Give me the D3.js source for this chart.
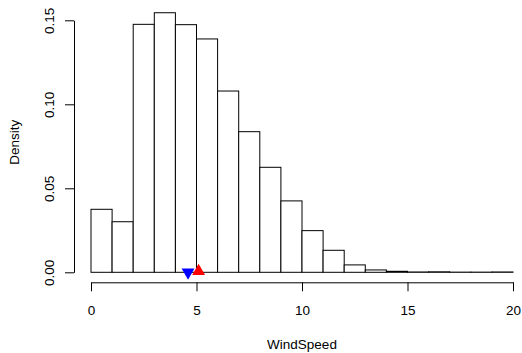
<!DOCTYPE html>
<html>
<head>
<meta charset="utf-8">
<script src="https://cdn.jsdelivr.net/npm/d3@7"></script>
<style>
  html, body { margin: 0; padding: 0; background: #fff; }
  svg { display: block; font-family: "Liberation Sans", Arial, Helvetica, sans-serif; }
</style>
</head>
<body>
<svg id="chart" width="522" height="353"></svg>
<script>
// Histogram bins (WindSpeed, width 1) and densities
const binStarts = [0, 1, 2, 3, 4, 5, 6, 7, 8, 9, 10, 11, 12, 13, 14, 15, 16, 17, 18, 19];
const densities = [0.0375, 0.0301, 0.1476, 0.1545, 0.1474, 0.1389, 0.1079, 0.0837, 0.0625, 0.0425,
                   0.0248, 0.0131, 0.0044, 0.0014, 0.0006, 0.0002, 0.0003, 0.0001, 0.0001, 0.0002];
const binWidth = 1;
const xTicks = [0, 5, 10, 15, 20];
const yTicks = [0, 0.05, 0.10, 0.15];
const yTickLabels = ["0.00", "0.05", "0.10", "0.15"];
const medianValue = 4.6;
const meanValue = 5.1;
const xLabel = "WindSpeed";
const yLabel = "Density";

const FS = 13.5;
const svg = d3.select("#chart");
const x = d3.scaleLinear().domain([0, 20]).range([91, 513]);
const y = d3.scaleLinear().domain([0, 0.15]).range([272.3, 20.3]);

// Bars
const bins = binStarts.map((s, i) => ({ x0: s, x1: s + binWidth, d: densities[i] }));
svg.append("g").selectAll("rect").data(bins).join("rect")
  .attr("x", d => x(d.x0))
  .attr("y", d => y(d.d))
  .attr("width", d => x(d.x1) - x(d.x0))
  .attr("height", d => y(0) - y(d.d))
  .attr("fill", "#fff")
  .attr("stroke", "#000")
  .attr("stroke-width", 1);

// Y axis
const yAxis = svg.append("g").attr("transform", "translate(74,0)")
  .call(d3.axisLeft(y).tickValues(yTicks).tickSize(9).tickSizeOuter(0)
    .tickFormat((d, i) => yTickLabels[i]));
yAxis.selectAll("text")
  .attr("x", 0).attr("y", 0).attr("dy", 0)
  .attr("text-anchor", "middle")
  .attr("transform", "translate(-20,0) rotate(-90)")
  .attr("font-size", FS).attr("font-family", "Liberation Sans, Arial, sans-serif")
  .attr("fill", "#000");
yAxis.selectAll("line, path").attr("stroke", "#000");

// X axis
const xAxis = svg.append("g").attr("transform", "translate(0,282.3)")
  .call(d3.axisBottom(x).tickValues(xTicks).tickSize(9).tickSizeOuter(0)
    .tickFormat(d3.format("d")));
xAxis.selectAll("text")
  .attr("y", 33).attr("dy", 0)
  .attr("font-size", FS).attr("font-family", "Liberation Sans, Arial, sans-serif")
  .attr("fill", "#000");
xAxis.selectAll("line, path").attr("stroke", "#000");

// Axis titles
svg.append("text").attr("x", (x(0) + x(20)) / 2).attr("y", 349)
  .attr("text-anchor", "middle").attr("font-size", FS).text(xLabel);
svg.append("text").attr("transform", `translate(19,${(272.3 + 12) / 2}) rotate(-90)`)
  .attr("text-anchor", "middle").attr("font-size", FS).text(yLabel);

// Median (blue, down) and mean (red, up) markers
const tri = d3.symbol().type(d3.symbolTriangle).size(72);
svg.append("path").attr("d", tri())
  .attr("transform", `translate(${x(medianValue)},${y(0)}) rotate(180)`)
  .attr("fill", "#0000ff");
svg.append("path").attr("d", tri())
  .attr("transform", `translate(${x(meanValue)},${y(0) - 1})`)
  .attr("fill", "#ff0000");
</script>
</body>
</html>
